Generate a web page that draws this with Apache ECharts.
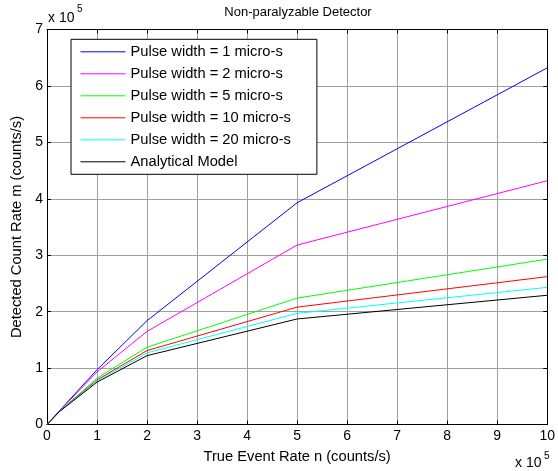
<!DOCTYPE html>
<html>
<head>
<meta charset="utf-8">
<script src="https://cdn.jsdelivr.net/npm/echarts@6/dist/echarts.min.js"></script>
<style>html,body{margin:0;padding:0;background:#fff}#c{width:558px;height:471px}</style>
</head>
<body>
<div id="c"></div>
<script>
// True event rate n (x 10^5 counts/s)
var trueRate = [0, 0.25, 1, 2, 5, 10];
// Detected count rate m (x 10^5 counts/s)
var pw1 = [0, 0.245, 0.97, 1.84, 3.93, 6.32];
var pw2 = [0, 0.24, 0.93, 1.65, 3.18, 4.32];
var pw5 = [0, 0.235, 0.82, 1.37, 2.24, 2.93];
var pw10 = [0, 0.233, 0.79, 1.31, 2.08, 2.62];
var pw20 = [0, 0.232, 0.77, 1.27, 1.97, 2.43];
var analytical = [0, 0.23, 0.75, 1.22, 1.87, 2.29];
var seriesNames = ['Pulse width = 1 micro-s', 'Pulse width = 2 micro-s', 'Pulse width = 5 micro-s',
  'Pulse width = 10 micro-s', 'Pulse width = 20 micro-s', 'Analytical Model'];
var seriesColors = ['#0000ff', '#ff00ff', '#00ff00', '#ff0000', '#00ffff', '#000000'];
var seriesData = [pw1, pw2, pw5, pw10, pw20, analytical];

var FONT = 'Liberation Sans, Arial, sans-serif';
var chart = echarts.init(document.getElementById('c'), null, {renderer: 'canvas'});

function pairs(ys) { return trueRate.map(function (x, i) { return [x, ys[i]]; }); }

var series = seriesData.map(function (d, i) {
  return {
    name: seriesNames[i], type: 'line', data: pairs(d), symbol: 'none', showSymbol: false,
    lineStyle: {color: seriesColors[i], width: 1}, itemStyle: {color: seriesColors[i]},
    animation: false, z: 3
  };
});

var tickStyle = {show: true, inside: true, length: 4, lineStyle: {color: '#000'}};
chart.setOption({
  animation: false,
  grid: {left: 47, right: 8.5, top: 29.5, bottom: 46.5, containLabel: false},
  xAxis: [{
    type: 'value', min: 0, max: 10, interval: 1,
    axisLine: {show: true, onZero: false, lineStyle: {color: '#000', width: 1}},
    axisTick: tickStyle,
    axisLabel: {color: '#000', fontSize: 14, fontFamily: FONT, margin: 5},
    splitLine: {show: true, lineStyle: {color: '#a0a0a0', width: 1}},
    name: 'True Event Rate n (counts/s)', nameLocation: 'middle', nameGap: 25,
    nameTextStyle: {color: '#000', fontSize: 14.7, fontFamily: FONT}
  }, {
    type: 'value', min: 0, max: 10, interval: 1, position: 'top',
    axisLine: {show: true, onZero: false, lineStyle: {color: '#000', width: 1}},
    axisTick: tickStyle, axisLabel: {show: false}, splitLine: {show: false}
  }],
  yAxis: [{
    type: 'value', min: 0, max: 7, interval: 1,
    axisLine: {show: true, onZero: false, lineStyle: {color: '#000', width: 1}},
    axisTick: tickStyle,
    axisLabel: {color: '#000', fontSize: 14, fontFamily: FONT, margin: 4},
    splitLine: {show: true, lineStyle: {color: '#a0a0a0', width: 1}},
    name: 'Detected Count Rate m (counts/s)', nameLocation: 'middle', nameGap: 22,
    nameTextStyle: {color: '#000', fontSize: 14.7, fontFamily: FONT}
  }, {
    type: 'value', min: 0, max: 7, interval: 1, position: 'right',
    axisLine: {show: true, onZero: false, lineStyle: {color: '#000', width: 1}},
    axisTick: tickStyle, axisLabel: {show: false}, splitLine: {show: false}
  }],
  legend: {
    orient: 'vertical', left: 71, top: 39.3,
    backgroundColor: '#fff', borderColor: '#000', borderWidth: 1,
    padding: [5, 26, 5, 9], itemWidth: 45, itemHeight: 14, itemGap: 7,
    itemStyle: {opacity: 0},
    lineStyle: {width: 1, opacity: 1},
    textStyle: {color: '#000', fontSize: 14.7, fontFamily: FONT},
    data: seriesNames
  },
  graphic: [
    {type: 'text', x: 298, y: 12, style: {text: 'Non-paralyzable Detector', fill: '#000', font: '13px ' + FONT, textAlign: 'center', textVerticalAlign: 'middle'}},
    {type: 'text', x: 48, y: 18.5, style: {text: 'x 10', fill: '#000', font: '14px ' + FONT, textAlign: 'left', textVerticalAlign: 'middle'}},
    {type: 'text', x: 77, y: 9, style: {text: '5', fill: '#000', font: '10px ' + FONT, textAlign: 'left', textVerticalAlign: 'middle'}},
    {type: 'text', x: 515, y: 463.5, style: {text: 'x 10', fill: '#000', font: '14px ' + FONT, textAlign: 'left', textVerticalAlign: 'middle'}},
    {type: 'text', x: 544, y: 456, style: {text: '5', fill: '#000', font: '10px ' + FONT, textAlign: 'left', textVerticalAlign: 'middle'}}
  ],
  series: series
});
</script>
</body>
</html>
